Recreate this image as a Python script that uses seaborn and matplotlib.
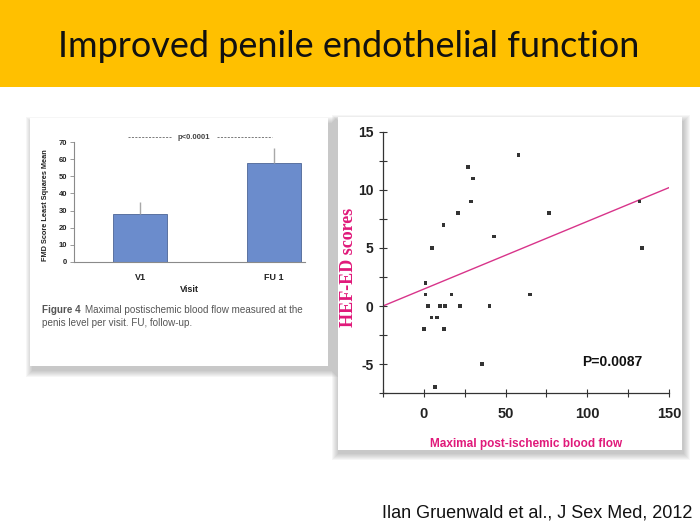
import matplotlib
matplotlib.use("Agg")
import matplotlib.pyplot as plt
import seaborn as sns
import pandas as pd
from matplotlib.patches import Rectangle

# ---------------- data ----------------
title_text = "Improved penile endothelial function"
footer_text = "Ilan Gruenwald et al., J Sex Med, 2012"

visits = ["V1", "FU 1"]
fmd_means = [28.0, 57.8]
fmd_err_upper = [7.2, 8.9]
bar_yticks = [0, 10, 20, 30, 40, 50, 60, 70]
bar_p_text = "p<0.0001"
caption_bold = "Figure 4"
caption_line1 = "Maximal postischemic blood flow measured at the"
caption_line2 = "penis level per visit. FU, follow-up."

flow = [58, 27, 30, 29, 21, 12, 43, 5, 1, 1, 17, 65, 2.7, 9.8, 13.1, 22.2,
        40.2, 4.7, 8, 0, 12.4, 35.5, 6.7, 76.5, 132, 133.3]
hef = [13, 12, 11, 9, 8, 7, 6, 5, 2, 1, 1, 1, 0, 0, 0, 0,
       0, -1, -1, -2, -2, -5, -7, 8, 9, 5]
fit_intercept = 1.46
fit_slope = 0.0583
sc_xticks = [0, 50, 100, 150]
sc_xminor = [-25, 25, 75, 125]
sc_yticks = [-5, 0, 5, 10, 15]
sc_yminor = [-7.5, -2.5, 2.5, 7.5, 12.5]
sc_p_text = "P=0.0087"

# ---------------- layout ----------------
W, H = 700, 525
sns.set_theme(style="white")
plt.rcParams['font.family'] = ['Liberation Sans', 'DejaVu Sans']
plt.rcParams['axes.unicode_minus'] = False
fig = plt.figure(figsize=(7, 5.25), dpi=100)
fig.patch.set_facecolor('white')


def fx(px):
    return px / W


def fy(py):
    return 1 - py / H


def rect_px(x0, y0, x1, y1, **kw):
    r = Rectangle((fx(x0), fy(y1)), (x1 - x0) / W, (y1 - y0) / H,
                  transform=fig.transFigure, **kw)
    fig.patches.append(r)
    return r


# yellow title band
rect_px(0, 0, 700, 87, facecolor='#FFC000', edgecolor='none', zorder=0)
fig.text(fx(348.5), fy(57), title_text, ha='center', va='baseline',
         fontsize=25.9, family=['Lato', 'DejaVu Sans'], color='#111111')


def panel(x0, y0, x1, y1, dx=3, dy=4):
    for k in range(7, 0, -1):
        rect_px(x0 + dx - k, y0 + dy - k + 2, x1 + dx + k, y1 + dy + k,
                facecolor='#555555', edgecolor='none', alpha=0.05, zorder=1)
    rect_px(x0, y0, x1, y1, facecolor='white', edgecolor='none', zorder=2)


panel(30, 118, 328, 366)
panel(338, 117, 682, 450, dx=1, dy=3)

# ---------------- bar chart ----------------
ax1 = fig.add_axes([fx(74), fy(262), (305 - 74) / W, (262 - 142) / H])
ax1.set_zorder(3)
ax1.set_facecolor('none')
df = pd.DataFrame({'Visit': visits, 'Mean': fmd_means})
sns.barplot(data=df, x='Visit', y='Mean', ax=ax1, color='#6b8ccc',
            saturation=1, width=0.405, edgecolor='#4d6595', linewidth=0.6)
ax1.errorbar(x=list(range(len(visits))), y=fmd_means,
             yerr=[[0] * len(visits), fmd_err_upper], fmt='none',
             ecolor='#a8a8a8', elinewidth=1.0, capsize=0, zorder=1)
ax1.set_xlim(-0.495, 1.235)
ax1.set_ylim(0, 70)
ax1.set_yticks(bar_yticks)
for s in ['top', 'right']:
    ax1.spines[s].set_visible(False)
for s in ['left', 'bottom']:
    ax1.spines[s].set_color('#8a8a8a')
    ax1.spines[s].set_linewidth(0.8)
ax1.tick_params(axis='y', direction='out', length=3, width=0.6,
                color='#8a8a8a', labelsize=5.5, pad=2, left=True,
                labelcolor='#222222')
ax1.tick_params(axis='x', length=0, labelsize=6.5, pad=8, labelcolor='#222222')
for lab in ax1.get_yticklabels() + ax1.get_xticklabels():
    lab.set_fontweight('bold')
ax1.set_xlabel('Visit', fontsize=6.5, fontweight='bold', color='#222222')
ax1.set_ylabel('FMD Score Least Squares Mean', fontsize=5.3,
               fontweight='bold', color='#222222')
ax1.xaxis.set_label_coords(0.5, -0.19)
ax1.yaxis.set_label_coords(-0.108, 0.475)
ax1.plot([-0.09, 0.235], [72.7, 72.7], ls=(0, (2.5, 1.6)), color='#666666',
         lw=0.6, clip_on=False)
ax1.plot([0.5725, 0.985], [72.7, 72.7], ls=(0, (2.5, 1.6)), color='#666666',
         lw=0.6, clip_on=False)
ax1.text(0.404, 72.7, bar_p_text, ha='center', va='center', fontsize=5.5,
         fontweight='bold', color='#444444', clip_on=False)

# caption
cap_size = 7.1
t_bold = fig.text(fx(42.5), fy(313), caption_bold, fontsize=cap_size,
                  fontweight='bold', color='#555555', va='baseline',
                  ha='left', zorder=4)
renderer = fig.canvas.get_renderer()
bb = t_bold.get_window_extent(renderer=renderer)
fig.text(bb.x1 / fig.bbox.width + 4 / W, fy(313), caption_line1,
         fontsize=cap_size, color='#555555', va='baseline', ha='left',
         zorder=4)
fig.text(fx(42.5), fy(326), caption_line2, fontsize=cap_size,
         color='#555555', va='baseline', ha='left', zorder=4)

# ---------------- scatter chart ----------------
pink = '#e0197a'
ax2 = fig.add_axes([fx(383), fy(393), (669 - 383) / W, (393 - 132) / H])
ax2.set_zorder(3)
ax2.set_facecolor('none')
ax2.set_xlim(-25, 150)
ax2.set_ylim(-7.5, 15)
sns.scatterplot(x=flow, y=hef, ax=ax2, marker='s', s=7, color='#333333',
                edgecolor='none', linewidth=0, zorder=3)
ax2.axline((0, fit_intercept), slope=fit_slope, color='#d8348a', lw=1.0,
           zorder=2)
ax2.set_xlim(-25, 150)
ax2.set_ylim(-7.5, 15)
ax2.set_xticks(sc_xticks)
ax2.set_xticks(sc_xminor, minor=True)
ax2.set_yticks(sc_yticks)
ax2.set_yticks(sc_yminor, minor=True)
for s in ['top', 'right']:
    ax2.spines[s].set_visible(False)
for s in ['left', 'bottom']:
    ax2.spines[s].set_color('#333333')
    ax2.spines[s].set_linewidth(0.9)
ax2.tick_params(which='both', direction='inout', length=6, width=0.8,
                color='#333333', left=True, bottom=True)
ax2.tick_params(axis='x', which='major', labelsize=10.5, pad=7,
                labelcolor='#222222')
ax2.tick_params(axis='y', which='major', labelsize=10, pad=4,
                labelcolor='#222222')
for lab in ax2.get_yticklabels() + ax2.get_xticklabels():
    lab.set_fontweight('bold')
ax2.set_xlabel('Maximal post-ischemic blood flow', fontsize=8.5,
               fontweight='bold', color=pink)
ax2.set_ylabel('HEF-ED scores', fontsize=13, fontweight='bold', color=pink,
               family=['Liberation Serif', 'DejaVu Serif'])
ax2.xaxis.set_label_coords(0.5, -0.172)
ax2.yaxis.set_label_coords(-0.09, 0.483)
ax2.text(97, -4.8, sc_p_text, ha='left', va='center', fontsize=10,
         fontweight='bold', color='#111111')

# footer
fig.text(fx(692), fy(517), footer_text, ha='right', va='baseline',
         fontsize=13, color='#111111')

fig.savefig('out.png', dpi=100)
